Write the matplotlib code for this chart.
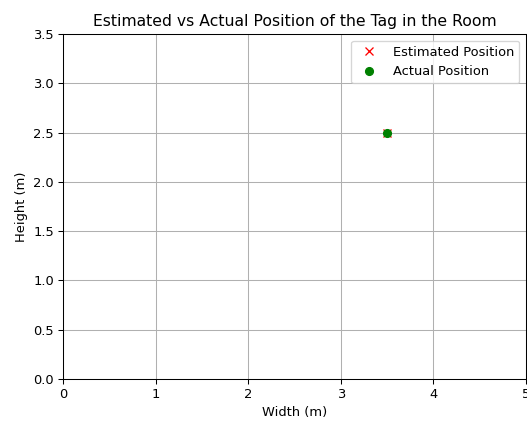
import matplotlib
matplotlib.use('Agg')
import matplotlib.pyplot as plt

# room size and tag positions (m)
room_width = 5
room_height = 3.5
estimated_x = [3.5]
estimated_y = [2.5]
actual_x = [3.5]
actual_y = [2.5]

dpi = 93.7
fig = plt.figure(figsize=(527 / dpi, 424 / dpi), dpi=dpi)
ax = fig.add_axes([63 / 527, 45 / 424, 463 / 527, 345 / 424])

ax.plot(estimated_x, estimated_y, 'rx', label='Estimated Position')
ax.plot(actual_x, actual_y, 'go', label='Actual Position')

ax.set_xlim(0, room_width)
ax.set_ylim(0, room_height)
ax.set_xlabel('Width (m)')
ax.set_ylabel('Height (m)')
ax.set_title('Estimated vs Actual Position of the Tag in the Room')
ax.legend(loc='upper right')
ax.grid(True)

fig.savefig('out.png', dpi=dpi)
